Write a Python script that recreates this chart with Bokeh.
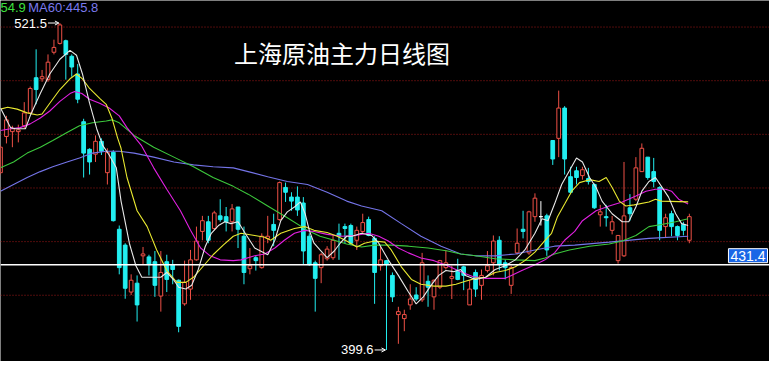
from bokeh.plotting import figure
from bokeh.models import Range1d, Span, Label, ColumnDataSource, Arrow, OpenHead
from bokeh.embed import file_html
from bokeh.resources import INLINE

TITLE = "上海原油主力日线图"
LEGEND_MA30 = "54.9"
LEGEND_MA60 = "MA60:445.8"
LAST_PRICE = 431.4
GRID_LEVELS = [420, 440, 460, 480, 500, 520]

OPEN = [465.7, 479.2, 481.0, 481.0, 483.2, 488.0, 501.1, 500.7, 500.4, 510.6,
        513.9, 514.9, 509.1, 502.5, 484.7, 474.4, 472.6, 477.4, 465.7, 473.3,
        444.6, 438.7, 421.2, 424.5, 434.7, 434.3, 432.5, 419.7, 432.5, 431.4,
        425.6, 416.8, 422.3, 433.2, 443.8, 447.4, 444.9, 449.6, 449.3, 447.4,
        452.9, 442.0, 429.9, 434.0, 430.3, 441.2, 446.4, 448.2, 460.2, 456.6,
        456.6, 454.4, 442.0, 432.1, 430.3, 433.6, 434.0, 443.1, 445.6, 446.0,
        440.5, 443.8, 448.2, 441.2, 431.0, 432.9, 427.4, 412.8, 411.3, 416.4,
        420.1, 418.3, 425.2, 419.4, 423.0, 430.3, 426.3, 429.2, 430.6, 416.4,
        428.5, 423.7, 429.2, 432.1, 440.5, 432.1, 423.7, 435.8, 444.6, 435.8,
        449.3, 449.3, 449.6, 477.7, 478.5, 489.8, 464.2, 466.4, 464.6, 463.5,
        461.3, 450.0, 449.3, 444.2, 432.9, 434.7, 452.6, 455.8, 466.1, 471.5,
        466.1, 460.2, 445.6, 450.4, 445.6, 446.4, 440.5]
HIGH = [475.9, 486.9, 483.2, 483.6, 492.0, 497.8, 511.7, 504.0, 509.8, 515.3,
        521.5, 515.3, 509.8, 506.2, 485.8, 474.8, 479.6, 478.5, 474.8, 474.1,
        446.0, 439.4, 427.8, 427.4, 438.0, 435.1, 436.5, 436.5, 435.1, 433.2,
        425.9, 432.9, 436.9, 445.6, 449.6, 449.6, 451.5, 455.8, 452.9, 454.0,
        452.9, 445.6, 437.6, 434.7, 443.1, 449.6, 450.4, 462.4, 462.0, 458.4,
        460.6, 456.6, 443.1, 432.9, 435.8, 438.3, 442.3, 446.7, 446.7, 446.7,
        445.6, 450.4, 449.3, 442.0, 438.3, 433.2, 428.5, 415.7, 414.6, 424.1,
        423.0, 435.8, 427.4, 425.9, 433.2, 436.9, 431.0, 433.6, 431.0, 425.6,
        429.6, 429.6, 436.5, 442.3, 442.0, 433.2, 431.0, 444.9, 451.5, 451.5,
        458.0, 455.1, 450.4, 477.7, 496.3, 490.5, 467.9, 467.9, 467.9, 467.5,
        461.7, 453.7, 453.7, 449.6, 442.3, 469.7, 457.7, 471.5, 476.6, 471.5,
        471.2, 460.6, 450.4, 451.5, 446.0, 447.4, 450.4]
LOW = [465.0, 476.6, 475.2, 477.0, 482.1, 487.6, 491.2, 499.6, 499.6, 509.8,
       513.5, 500.4, 501.5, 491.6, 463.9, 465.0, 469.7, 472.3, 461.3, 447.5,
       427.8, 418.7, 420.1, 410.2, 431.4, 427.4, 419.4, 413.9, 421.2, 424.1,
       406.2, 416.1, 418.3, 432.9, 440.5, 439.4, 444.2, 447.4, 443.8, 443.8,
       437.6, 424.1, 427.8, 429.2, 429.9, 439.4, 438.3, 447.8, 454.8, 451.5,
       449.6, 431.4, 431.0, 413.9, 424.5, 432.9, 433.2, 433.2, 439.4, 438.7,
       436.9, 443.1, 442.0, 416.8, 429.2, 399.6, 417.5, 401.9, 406.6, 414.6,
       417.9, 417.5, 415.7, 414.6, 422.3, 429.6, 418.6, 425.6, 421.9, 416.4,
       419.4, 418.3, 428.5, 427.4, 429.2, 425.9, 420.5, 435.1, 441.2, 435.1,
       447.4, 446.0, 434.7, 468.6, 471.5, 465.0, 457.7, 461.3, 463.1, 461.3,
       452.2, 445.6, 445.6, 442.7, 431.8, 434.3, 447.8, 455.1, 466.1, 463.1,
       460.2, 440.5, 441.6, 442.0, 440.5, 442.3, 439.4]
CLOSE = [475.2, 485.4, 482.1, 481.7, 488.0, 497.1, 496.7, 501.5, 506.9, 512.4,
         520.8, 509.8, 505.1, 493.1, 473.0, 469.7, 477.4, 473.7, 473.3, 447.8,
         430.3, 422.6, 425.6, 416.4, 435.4, 431.4, 423.7, 428.5, 425.9, 429.6,
         408.4, 424.8, 433.2, 440.2, 447.8, 440.5, 450.7, 448.2, 447.4, 452.2,
         444.6, 428.5, 431.0, 432.9, 442.0, 442.0, 444.2, 462.0, 458.4, 455.1,
         451.8, 436.5, 431.4, 426.3, 435.1, 437.2, 440.5, 442.0, 444.9, 439.4,
         444.2, 447.1, 442.3, 428.5, 433.2, 431.4, 419.4, 413.9, 412.8, 418.6,
         418.6, 432.1, 423.0, 425.6, 432.9, 432.1, 427.0, 425.9, 427.4, 422.3,
         422.3, 427.4, 431.0, 440.2, 431.4, 430.3, 430.3, 439.4, 443.8, 451.1,
         456.2, 449.3, 436.9, 470.8, 489.8, 470.8, 458.4, 463.9, 466.8, 462.4,
         452.6, 451.1, 448.9, 447.4, 442.3, 449.6, 450.4, 467.5, 474.8, 463.9,
         462.4, 444.2, 448.9, 445.6, 442.3, 444.2, 449.3]

MA5_IDX = [0, 1.7, 2.5, 4.2, 5, 6.7, 8.3, 10, 11.7, 12.8, 13.8, 15, 16.2, 17.2, 18.3, 19.5, 20.3, 21.7, 22.8, 23.8,
           27, 28, 29.2, 30, 31.2, 32.2, 33.3, 34.5, 35.5, 36.7, 37.8, 38.8, 40, 41.2, 42.8, 45, 46.2, 47.2, 48.3, 49.5,
           50.5, 51.3, 52, 52.8, 53.8, 55, 56.2, 57.2, 58.3, 59.2, 60.8, 62.5, 63.7, 65.3, 67, 68.7, 70, 71.2, 72.5, 73.8,
           75, 76.3, 77.5, 78.3, 80, 81.7, 83.3, 85, 86.7, 88.3, 90, 91.2, 92.2, 93.3, 94.5, 95.8, 97, 98, 99.2, 100.3,
           101.3, 103, 104.7, 105.8, 107, 108, 109.2, 110.3, 111.3, 112.5, 113.7, 114.7, 115.8]
MA5_VAL = [489.8, 482.5, 482.1, 482.1, 486.9, 495.2, 502.5, 508.0, 511.3, 509.5, 502.5, 491.6, 482.1, 475.9, 472.3, 467.5, 455.1, 439.4, 431.0, 426.7,
           426.7, 428.5, 425.6, 423.0, 422.3, 423.7, 429.6, 438.3, 443.1, 446.0, 447.4, 446.7, 447.4, 443.1, 437.6, 435.1, 440.5, 447.8, 451.1, 452.9,
           454.8, 450.4, 444.2, 439.4, 436.9, 434.0, 436.5, 439.4, 442.0, 442.0, 443.1, 442.3, 439.4, 433.2, 427.4, 421.2, 416.8, 419.4, 423.7, 427.4,
           429.2, 428.8, 429.6, 427.4, 425.9, 426.7, 429.6, 431.0, 433.2, 436.9, 443.1, 448.5, 447.8, 454.0, 461.3, 466.4, 471.2, 469.7, 463.9, 460.2,
           455.1, 450.4, 447.4, 447.4, 452.9, 458.8, 462.4, 463.9, 460.6, 456.6, 450.4, 446.7, 446.0]

MA10_IDX = [0, 1.2, 2.8, 4.5, 6.2, 7, 8.3, 10, 11.7, 12.8, 13.8, 15, 16.7, 17.8, 18.8, 19.7, 20.3, 21.3, 23, 24.7,
            26.3, 28, 29.7, 31.2, 32.5, 34.2, 35.8, 37.5, 39.2, 40.5, 42.8, 44.5, 45.5, 47.2, 49.5, 51.2, 52.8, 55, 56.7, 58.3,
            60, 61.3, 63, 64.7, 65.8, 67.5, 69.2, 70.8, 73, 75, 76.7, 78.3, 80, 81.7, 83.3, 85, 86.7, 88.3, 90, 91.7,
            92.8, 93.8, 95, 96.2, 97.5, 99.2, 100.8, 102, 103, 104.2, 105.3, 106.7, 109.2, 110.3, 111.3, 115.8]
MA10_VAL = [489.4, 490.1, 489.4, 488.0, 487.2, 487.6, 491.6, 496.7, 500.7, 502.5, 500.7, 497.1, 493.4, 491.2, 485.8, 478.8, 474.8, 463.9, 451.5, 445.6,
            436.9, 429.2, 424.8, 424.8, 426.7, 431.0, 435.1, 438.7, 442.0, 443.1, 442.3, 441.6, 440.5, 443.1, 444.9, 445.6, 444.2, 443.4, 442.0, 440.2,
            438.0, 439.4, 440.2, 439.8, 436.9, 430.6, 425.9, 424.1, 423.4, 423.4, 424.1, 425.2, 426.3, 426.7, 428.5, 429.2, 430.6, 432.9, 436.1, 440.5,
            443.1, 449.3, 454.0, 458.8, 462.0, 463.1, 462.4, 463.9, 460.2, 455.1, 453.3, 453.7, 454.8, 455.8, 455.1, 454.8]

MA20_IDX = [0, 1.7, 3.3, 5, 6.7, 8.3, 10, 11.7, 12.5, 13.7, 15, 16.7, 18.3, 20, 21.3, 23.7, 25.8, 28, 30.3, 32,
            33.7, 35.3, 37, 39.2, 40.5, 42.8, 44.5, 46.2, 47.8, 49.5, 51.2, 52.8, 55, 57.5, 59.7, 62, 63.7, 65.3, 67, 68.7,
            70.8, 73, 75.3, 77.5, 79.5, 81.7, 85, 87.8, 90, 91.7, 93.3, 95, 96.7, 98, 100.3, 102.5, 104.7, 107, 108.7, 110.3,
            112, 113, 114.2, 115.8]
MA20_VAL = [481.4, 482.1, 482.5, 483.9, 486.1, 488.7, 492.3, 495.2, 496.0, 495.2, 493.1, 491.6, 489.8, 486.9, 482.5, 475.9, 467.5, 459.5, 451.5, 444.2,
            437.6, 434.7, 433.2, 432.9, 433.2, 434.7, 435.4, 437.6, 440.5, 443.1, 444.2, 443.8, 442.7, 442.0, 442.3, 443.1, 442.0, 440.2, 437.6, 435.8,
            433.9, 432.9, 431.0, 428.8, 427.0, 426.3, 426.3, 429.2, 431.4, 433.2, 435.8, 440.5, 443.8, 447.8, 451.5, 453.3, 454.8, 457.0, 458.8, 459.5,
            459.5, 458.8, 455.8, 454.0]

MA30_IDX = [0, 2.2, 4.5, 6.7, 8.8, 11.2, 13.3, 15.5, 17.8, 18.8, 20, 22.5, 25.8, 29.2, 32.5, 35.8, 39.2, 41.7, 45, 48.3,
            51.7, 53.8, 56.2, 58.3, 60.8, 63, 65.8, 68.7, 72, 75.3, 77.5, 80, 83.3, 86.7, 90, 91.7, 93.3, 95.8, 99.2, 102.5,
            104.7, 107, 109.2, 111.3, 113.7, 115.8]
MA30_VAL = [467.5, 469.7, 473.0, 475.2, 477.7, 480.7, 483.2, 484.3, 485.0, 485.4, 484.3, 479.6, 475.2, 471.5, 467.9, 463.9, 460.6, 457.7, 453.3, 448.9,
            444.2, 442.0, 440.5, 439.1, 438.0, 438.7, 438.7, 438.3, 437.6, 436.5, 435.4, 434.7, 433.6, 433.2, 432.9, 433.9, 435.4, 436.9, 438.3, 439.1,
            440.2, 442.3, 445.6, 446.4, 447.4, 448.5]

MA60_IDX = [0, 2.2, 4.5, 6.7, 8.8, 11.2, 13.3, 15.5, 17.8, 20, 22.5, 25.8, 29.2, 32.5, 35.8, 39.2, 41.7, 45, 48.3, 51.7,
            55, 58.3, 60.8, 64.2, 67.5, 70.8, 74.2, 77.5, 80, 83.3, 86.7, 90, 93.3, 96.7, 102.5, 109.2, 115.8]
MA60_VAL = [458.8, 461.3, 463.9, 466.1, 467.9, 469.7, 471.2, 473.0, 473.7, 473.7, 473.0, 471.5, 469.7, 468.6, 467.9, 467.5, 466.1, 464.2, 462.4, 461.3,
            458.4, 455.1, 453.3, 451.5, 446.7, 442.0, 438.3, 435.4, 434.7, 434.7, 435.4, 436.9, 438.3, 438.7, 439.8, 441.2, 442.0]

# ---------------------------------------------------------------- styles
UP = "#ee5046"
DOWN = "#22eef0"
FLAT = "#ffffff"
W, H = 769, 361
X0, X1 = 0.0, 129.5
Y0, Y1 = 395.3, 529.9
PX = (X1 - X0) / 777.0  # data units per reference pixel (x)


def px_x(px):
    return X0 + PX * px


def px_y(py):
    return Y1 - (Y1 - Y0) * py / 369.0


idx = list(range(len(OPEN)))
colors, fills, tops, bottoms = [], [], [], []
for o, c in zip(OPEN, CLOSE):
    if c > o:
        colors.append(UP); fills.append("black")
    elif c < o:
        colors.append(DOWN); fills.append(DOWN)
    else:
        colors.append(FLAT); fills.append(FLAT)
    tops.append(max(o, c)); bottoms.append(min(o, c))

src = ColumnDataSource(dict(x=idx, high=HIGH, low=LOW, top=tops, bottom=bottoms,
                            color=colors, fill=fills))

p = figure(width=W, height=H, x_range=Range1d(X0, X1), y_range=Range1d(Y0, Y1),
           output_backend="svg", toolbar_location=None,
           background_fill_color="black", border_fill_color="black",
           min_border=0, outline_line_color=None,
           x_axis_location=None, y_axis_location=None)
p.grid.visible = False

for lv in GRID_LEVELS:
    p.add_layout(Span(location=lv, dimension="width", line_color="#a01818",
                      line_width=1, line_dash="1 2", level="underlay"))

p.segment(x0="x", y0="high", x1="x", y1="low", line_color="color", line_width=1, source=src)
p.vbar(x="x", width=0.62, top="top", bottom="bottom", fill_color="fill",
       line_color="color", line_width=1, source=src)

p.line(MA60_IDX, MA60_VAL, line_color="#7474e8", line_width=1.1)
p.line(MA30_IDX, MA30_VAL, line_color="#3cc83c", line_width=1.1)
p.line(MA20_IDX, MA20_VAL, line_color="#e020e0", line_width=1.1)
p.line(MA10_IDX, MA10_VAL, line_color="#e8e830", line_width=1.1)
p.line(MA5_IDX, MA5_VAL, line_color="#e8e8e8", line_width=1.1)

p.add_layout(Span(location=LAST_PRICE, dimension="width", line_color="white", line_width=1.4))

# labels
NUM_FONT = "Liberation Sans"
p.add_layout(Label(x=px_x(0), y=px_y(7), text=LEGEND_MA30, text_color="#3ee03e",
                   text_font=NUM_FONT, text_font_size="13px", text_baseline="middle"))
p.add_layout(Label(x=px_x(28), y=px_y(7), text=LEGEND_MA60, text_color="#7a7aee",
                   text_font=NUM_FONT, text_font_size="13px", text_baseline="middle"))

p.add_layout(Label(x=px_x(236), y=px_y(53), text=TITLE, text_color="white",
                   text_font="Noto Sans CJK SC", text_font_size="24px",
                   text_baseline="middle"))

imax = max(idx, key=lambda i: HIGH[i])
imin = min(idx, key=lambda i: LOW[i])
for i, val in ((imax, HIGH[imax]), (imin, LOW[imin])):
    p.add_layout(Label(x=i, y=val, text=f"{val:.1f}", text_color="white",
                       text_font=NUM_FONT, text_font_size="13px", text_align="right",
                       text_baseline="middle", x_offset=-13))
    p.add_layout(Arrow(end=OpenHead(size=4, line_color="white", line_width=1),
                       x_start=i - PX * 12, y_start=val, x_end=i - PX * 1, y_end=val,
                       line_color="white", line_width=1))

try:
    price_lbl = Label(x=X1, y=LAST_PRICE, text=f"{LAST_PRICE:.1f}", text_color="white",
                      text_font=NUM_FONT, text_font_size="14px", text_align="right",
                      text_baseline="bottom", x_offset=-2, y_offset=2,
                      background_fill_color="#1a66e6", border_line_color="white",
                      border_line_width=1, padding=2)
except Exception:
    price_lbl = Label(x=X1, y=LAST_PRICE, text=f"{LAST_PRICE:.1f}", text_color="white",
                      text_font=NUM_FONT, text_font_size="14px", text_align="right",
                      text_baseline="bottom", x_offset=-2,
                      background_fill_color="#1a66e6", border_line_color="white")
p.add_layout(price_lbl)

open("out.html", "w").write(file_html(p, INLINE))
